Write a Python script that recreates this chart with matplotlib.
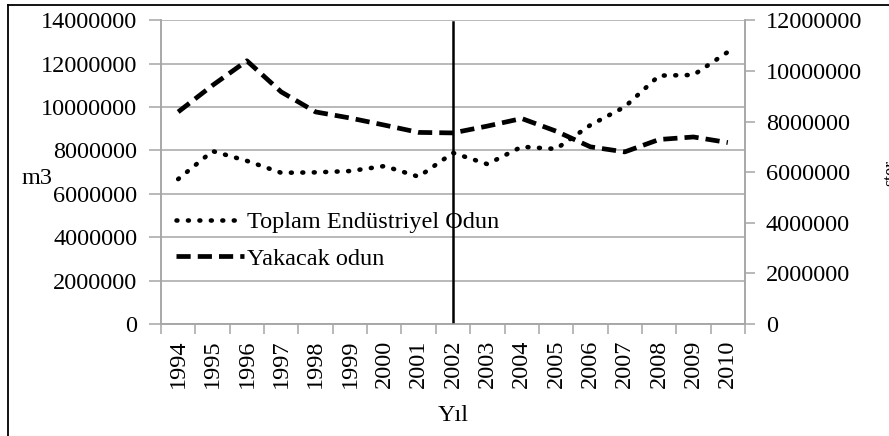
import matplotlib
matplotlib.use("Agg")
import matplotlib.pyplot as plt
from matplotlib.lines import Line2D

plt.rcParams['font.family'] = ['Liberation Serif', 'DejaVu Serif']

years = [str(y) for y in range(1994, 2011)]
endustriyel = [6680000, 7970000, 7520000, 6970000, 6990000, 7050000, 7280000,
               6790000, 7890000, 7370000, 8170000, 8070000, 9170000, 10010000,
               11450000, 11480000, 12540000]
yakacak = [8380000, 9430000, 10400000, 9170000, 8380000, 8140000, 7860000,
           7570000, 7550000, 7820000, 8120000, 7620000, 7000000, 6800000,
           7290000, 7390000, 7170000]
left_ticks = list(range(0, 14000001, 2000000))
right_ticks = list(range(0, 12000001, 2000000))
marker_year = 2002

W, H = 889, 436
fig = plt.figure(figsize=(W / 100, H / 100), dpi=100)
ax = fig.add_axes([161 / W, 1 - 324 / H, (745 - 161) / W, (324 - 20.3) / H])
ax2 = ax.twinx()

grid_c = '#a6a6a6'
x = list(range(len(years)))

ax.plot(x, endustriyel, color='black', lw=3.3, linestyle=(0, (0.2, 2.3)),
        dash_capstyle='round', label='Toplam Endüstriyel Odun', zorder=3)
ax2.plot(x, yakacak, color='black', lw=3.4, linestyle=(0, (3.0, 1.5)),
         label='Yakacak odun', zorder=3)
ax.axvline(years.index(str(marker_year)), color='black', lw=1.8, zorder=4,
           ymax=0.993)

ax.set_xlim(-0.5, len(years) - 0.5)
ax.set_ylim(0, 14000000)
ax2.set_ylim(0, 12000000)
ax.set_yticks(left_ticks)
ax.set_yticklabels([str(v) for v in left_ticks])
ax2.set_yticks(right_ticks)
ax2.set_yticklabels([str(v) for v in right_ticks])
ax.yaxis.grid(True, color=grid_c, lw=1.1)
ax.set_axisbelow(True)

ax.set_xticks(x)
ax.set_xticklabels(years, rotation=90)
ax.set_xticks([i - 0.5 for i in range(len(years) + 1)], minor=True)
ax.tick_params(axis='x', which='major', length=0, pad=11, labelsize=17.5)
ax.tick_params(axis='x', which='minor', length=7, color=grid_c, width=1.1)
ax.tick_params(axis='y', length=9, color=grid_c, width=1.1, pad=8, labelsize=17.5)
ax2.tick_params(axis='y', length=7, color=grid_c, width=1.1, pad=8, labelsize=17.5)

for a in (ax, ax2):
    a.spines['top'].set_visible(False)
    for s in ('left', 'right', 'bottom'):
        a.spines[s].set_color(grid_c)
        a.spines[s].set_linewidth(1.1)

ax.set_xlabel('Yıl', fontsize=17.5, labelpad=12)
fig.text(22 / W, 1 - 178 / H, 'm3', fontsize=17.5, ha='left', va='center')
fig.text(882 / W, 1 - 173 / H, 'ster', fontsize=13, rotation=90,
         ha='left', va='center')

h1, l1 = ax.get_legend_handles_labels()
h2, l2 = ax2.get_legend_handles_labels()
ax2.legend(h1 + h2, l1 + l2, loc='upper left', frameon=False, fontsize=17.5,
           bbox_to_anchor=(0.0, 0.42), handlelength=2.8, handletextpad=0.15,
           labelspacing=0.6, borderaxespad=0.2)

fig.add_artist(Line2D([8 / W, 8 / W], [0, 1 - 5 / H], color='black', lw=1.3))
fig.add_artist(Line2D([8 / W, 1], [1 - 5 / H, 1 - 5 / H], color='black', lw=1.3))

fig.savefig('out.png', dpi=100)
